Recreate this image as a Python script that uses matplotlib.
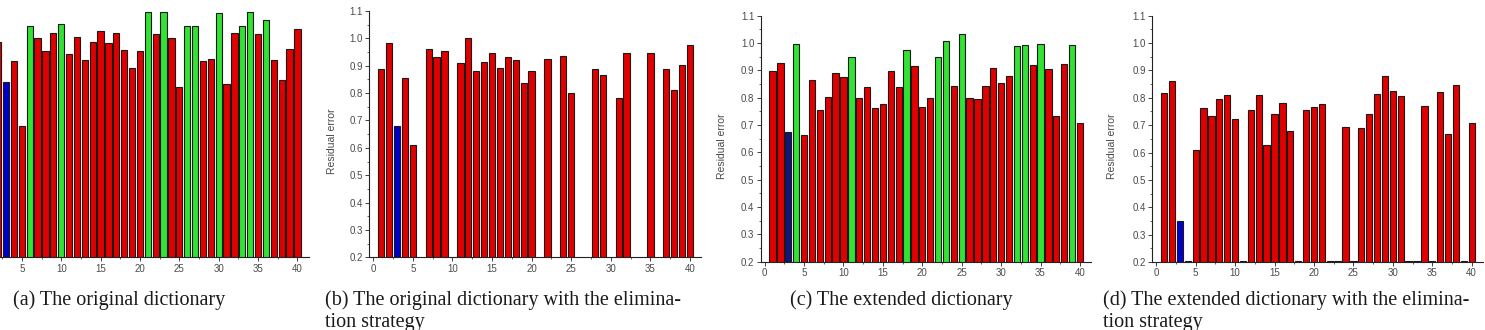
import matplotlib; matplotlib.use('Agg'); import matplotlib.pyplot as plt
import numpy as np
from matplotlib.ticker import MultipleLocator, FormatStrFormatter
plt.rcParams.update({'font.family': 'Liberation Sans'})

RED = '#e00000'; GREEN = '#33e333'; BLUE = '#0000cc'; NAVY = '#14147a'; EDGE = '#1a1a1a'; GRAY = '#4a4a4a'

atoms = list(range(1, 41))
# (a) original dictionary
orig_err = [0.950, 0.988, 0.839, 0.917, 0.680, 1.045, 1.003, 0.954, 1.019, 1.051,
            0.944, 1.005, 0.921, 0.986, 1.028, 0.983, 1.019, 0.957, 0.893, 0.954,
            1.098, 1.017, 1.098, 1.000, 0.821, 1.046, 1.046, 0.918, 0.926, 1.092,
            0.835, 1.019, 1.046, 1.098, 1.016, 1.066, 0.921, 0.849, 0.961, 1.034]
orig_best = 3
orig_green = [6, 10, 21, 23, 26, 27, 30, 33, 34, 36]
# (b) original dictionary with elimination (None = eliminated)
orig_elim_err = [0.888, 0.982, 0.681, 0.857, 0.611, None, 0.962, 0.933, 0.955, None,
                 0.910, 1.002, 0.881, 0.913, 0.946, 0.892, 0.932, 0.922, 0.838, 0.881,
                 None, 0.924, None, 0.935, 0.800, None, None, 0.887, 0.865, None,
                 0.783, 0.946, None, None, 0.946, None, 0.887, 0.812, 0.902, 0.975]
# (c) extended dictionary
ext_err = [0.898, 0.926, 0.673, 0.998, 0.662, 0.865, 0.754, 0.804, 0.891, 0.876,
           0.948, 0.800, 0.839, 0.761, 0.776, 0.898, 0.839, 0.976, 0.916, 0.767,
           0.800, 0.948, 1.009, 0.844, 1.034, 0.800, 0.795, 0.844, 0.909, 0.855,
           0.878, 0.988, 0.993, 0.920, 0.998, 0.905, 0.732, 0.922, 0.993, 0.709]
ext_green = [4, 11, 18, 22, 23, 25, 32, 33, 35, 39]
# (d) extended dictionary with elimination (~0.2 = eliminated, drawn flat)
ext_elim_err = [0.816, 0.861, 0.351, 0.204, 0.610, 0.763, 0.735, 0.797, 0.810, 0.724,
                0.204, 0.757, 0.811, 0.628, 0.741, 0.782, 0.677, 0.204, 0.757, 0.765,
                0.777, 0.204, 0.204, 0.693, 0.204, 0.691, 0.741, 0.815, 0.880, 0.825,
                0.805, 0.204, 0.204, 0.771, 0.204, 0.822, 0.667, 0.847, 0.204, 0.708]

captions = [('(a) The original dictionary', ''),
            ('(b) The original dictionary with the elimina-', 'tion strategy'),
            ('(c) The extended dictionary', ''),
            ('(d) The extended dictionary with the elimina-', 'tion strategy')]

W, H = 1485, 330
fig = plt.figure(figsize=(W/100, H/100), dpi=100)
fig.patch.set_facecolor('white')

def axes_px(l, r, t, b):
    return fig.add_axes([l/W, (H-b)/H, (r-l)/W, (b-t)/H])

def panel(ax, vals, green=(), best_col=BLUE, yaxis=True):
    xs = [i for i, v in zip(atoms, vals) if v is not None]
    hs = [v for v in vals if v is not None]
    cols = [best_col if i == orig_best else (GREEN if i in green else RED) for i in xs]
    ax.bar(xs, hs, width=0.8, color=cols, edgecolor=EDGE, linewidth=0.8, zorder=2)
    ax.set_xlim(-0.5, 41.4); ax.set_ylim(0.2, 1.1)
    for s in ['top', 'right']: ax.spines[s].set_visible(False)
    for s in ['left', 'bottom']: ax.spines[s].set_color('#222222'); ax.spines[s].set_linewidth(0.8)
    ax.xaxis.set_major_locator(MultipleLocator(5)); ax.xaxis.set_minor_locator(MultipleLocator(2.5))
    ax.yaxis.set_major_locator(MultipleLocator(0.1)); ax.yaxis.set_minor_locator(MultipleLocator(0.05))
    ax.yaxis.set_major_formatter(FormatStrFormatter('%.1f'))
    ax.tick_params(which='major', direction='out', length=3, width=0.6, color='#222222',
                   labelsize=7, labelcolor=GRAY, pad=1.5)
    ax.tick_params(which='minor', direction='out', length=1.6, width=0.5, color='#222222')
    if yaxis:
        ax.set_ylabel('Residual error', fontsize=7.5, color=GRAY)
    else:
        ax.spines['left'].set_visible(False)
        ax.tick_params(axis='y', which='both', left=False, labelleft=False)
        ax.set_xticks(range(5, 41, 5))

ax_a = axes_px(-21.5, 308.5, 11, 257.3)
panel(ax_a, orig_err, orig_green, yaxis=False)
ax_b = axes_px(369.3, 701, 11, 257.3)
panel(ax_b, orig_elim_err)
ax_b.yaxis.set_label_coords(-0.097, 0.47)
ax_c = axes_px(760.7, 1091, 15.7, 261.7)
panel(ax_c, ext_err, ext_green, best_col=NAVY)
ax_c.yaxis.set_label_coords(-0.102, 0.47)
ax_d = axes_px(1152.3, 1482.7, 15.7, 262)
panel(ax_d, ext_elim_err)
ax_d.yaxis.set_label_coords(-0.107, 0.47)

for xc, (l1, l2) in zip([12.7, 325, 790, 1103], captions):
    for yb, s in [(305, l1), (327, l2)]:
        if s:
            fig.text(xc/W, (H-yb)/H, s, ha='left', va='baseline', fontsize=14.5,
                     family='Liberation Serif', color='#1a1a1a')

fig.savefig('out.png', dpi=100, facecolor='white')
print('ok')
